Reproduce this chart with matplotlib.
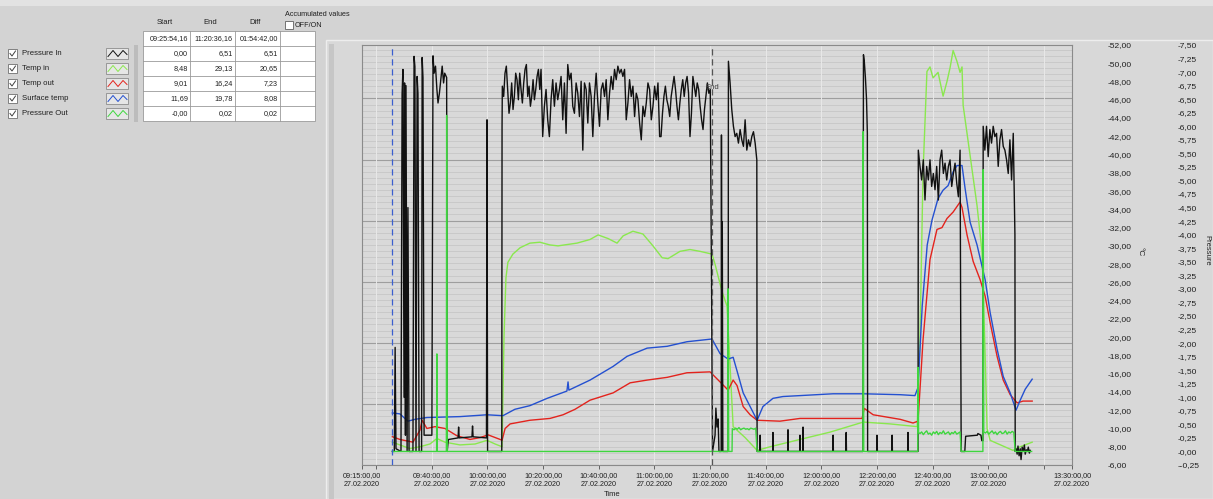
import numpy as np
import matplotlib.pyplot as plt
from matplotlib.lines import Line2D
from matplotlib.patches import Rectangle

plt.rcParams['font.family'] = ['Liberation Sans', 'DejaVu Sans']

# ---- values (time = minutes after 09:15:00, 27.02.2020) ----
channels = ["Pressure In", "Temp in", "Temp out", "Surface temp", "Pressure Out"]
start_col = ["09:25:54,16", "0,00", "8,48", "9,01", "11,69", "-0,00"]
end_col = ["11:20:36,16", "6,51", "29,13", "16,24", "19,78", "0,02"]
diff_col = ["01:54:42,00", "6,51", "20,65", "7,23", "8,08", "0,02"]

tick_minutes = [0, 5, 25, 45, 65, 85, 105, 125, 145, 165, 185, 205, 225, 245, 255]
unlabeled_ticks = [5, 245]
temp_ticks = np.arange(6, 53, 2)
press_ticks = np.arange(-0.25, 7.51, 0.25)

# Pressure In (bar)
pin_pre_t = [10.9, 11.6, 11.9, 12.2, 14.0, 14.4, 14.7, 15.1, 15.3, 15.6, 15.8, 16.2, 16.5, 16.9,
             18.3, 18.7, 19.0, 19.4, 19.8, 20.1, 20.5, 21.4, 21.6, 21.9, 22.3, 25.1, 25.5,
             25.9, 26.4, 26.9, 27.3, 27.8, 28.3, 28.8, 29.3, 29.7,
             30.4, 30.6, 31.0, 34.5, 34.7, 34.9, 39.5, 39.7, 39.9, 44.7, 44.9, 45.1, 50.2, 50.3]
pin_pre_v = [0.0, 0.0, 1.92, 0.05, 0.0, 6.6, 7.05, 1.0, 6.8, 0.3, 6.75, 0.0, 4.5, 0.0,
             0.0, 7.29, 7.1, 0.0, 6.92, 6.6, 0.0, 0.0, 7.27, 6.9, 0.3, 0.3, 7.3,
             6.98, 7.11, 6.68, 6.43, 6.61, 6.86, 7.11, 6.80, 6.98,
             6.9, 0.0, 0.22, 0.25, 0.45, 0.25, 0.27, 0.47, 0.27, 0.25, 6.12, 0.0, 0.0, 6.0]
pin_seg_a = [6.74, 6.55, 6.98, 7.11, 6.68, 6.24, 6.43, 6.80, 6.31, 6.55, 6.98, 6.86, 6.49, 6.98,
             6.68, 6.43, 6.80, 7.05, 7.14, 6.55, 6.74, 6.37, 6.55, 6.86, 6.49, 6.68, 6.92, 7.05, 6.68]
pin_seg_b = [7.05, 5.81, 6.37, 6.68, 6.12, 5.81, 6.49, 6.86, 6.37, 6.80, 6.49, 6.68, 6.92, 6.12,
             6.80, 5.87, 7.14, 6.86, 6.98, 6.37, 6.24, 6.80, 6.61, 6.18, 6.83, 5.56, 6.80, 6.68,
             6.06, 6.80, 6.55, 5.81, 6.55, 6.98, 6.43, 6.00, 6.68, 6.80, 6.55, 6.86, 6.12, 6.61,
             6.92, 6.68, 7.05, 6.86, 7.11, 6.98, 7.05, 6.92, 7.05, 6.12, 6.43, 6.86, 6.55, 6.74,
             6.18, 6.61, 6.49, 6.06, 5.75, 6.37, 6.18, 6.43, 6.80, 6.68, 6.12, 6.37, 6.74, 6.49,
             6.80, 5.81]
pin_seg_c = [5.81, 6.24, 6.55, 6.74, 6.49, 6.37, 6.18, 6.55, 6.74, 6.92, 6.68, 6.37, 6.12, 6.43,
             6.68, 6.86, 6.55, 6.80, 6.92, 6.61, 5.81, 6.24, 6.92, 6.74, 6.55, 6.80, 6.68, 6.37,
             6.12, 5.94, 6.31, 6.55, 6.80, 6.61, 6.68]
pin_mid_t = [125.9, 126.8, 127.1, 127.5, 127.9, 128.2, 129.0, 129.1, 129.3, 129.4, 129.6, 131.5, 131.6]
pin_mid_v = [0.0, 0.3, 0.8, 0.45, 0.6, 0.0, 0.0, 5.84, 0.0, 4.24, 0.0, 0.0, 7.2]
pin_seg_d = [6.80, 6.31, 6.00, 5.81, 5.87, 5.69, 5.94, 5.75, 5.63, 6.12, 5.56, 5.75, 5.63, 5.81,
             5.90, 5.69, 5.38]
pin_low_t = [141.9, 142.9, 143.0, 143.1, 147.5, 147.6, 147.7, 152.9, 153.0, 153.1, 157.2, 157.3,
             157.4, 158.3, 158.4, 158.5, 169.1, 169.2, 169.3, 173.8, 173.9, 174.0, 179.9, 180.1,
             180.4, 180.8, 181.2, 181.5, 181.6, 184.9, 185.0, 185.1, 190.3, 190.4, 190.5, 196.0,
             196.1, 196.2, 199.7, 199.8]
pin_low_v = [0.0, 0.0, 0.3, 0.0, 0.0, 0.35, 0.0, 0.0, 0.4, 0.0, 0.0, 0.3,
             0.0, 0.0, 0.45, 0.0, 0.0, 0.3, 0.0, 0.0, 0.35, 0.0, 0.0, 7.32,
             7.2, 6.9, 6.5, 5.87, 0.0, 0.0, 0.3, 0.0, 0.0, 0.3, 0.0, 0.0,
             0.35, 0.0, 0.0, 5.56]
pin_seg_e = [5.26, 5.01, 5.38, 4.64, 5.26, 5.01, 5.38, 4.89, 5.13, 4.83, 5.26, 4.64, 5.38, 5.56,
             5.13, 5.32, 5.01, 5.26, 5.38, 4.89, 5.13, 5.32, 4.95, 4.70, 5.56]
pin_gap_t = [215.2, 216.5, 216.8, 221.0, 221.2, 222.3, 222.6, 223.0, 223.1]
pin_gap_v = [0.0, 0.0, 0.28, 0.3, 0.33, 0.3, 0.2, 0.2, 6.0]
pin_seg_f = [5.56, 6.00, 5.44, 5.94, 5.69, 6.00, 5.81, 5.87, 5.26, 5.75, 5.94, 5.63, 5.56, 5.38,
             5.13, 5.75, 5.01, 5.87]
pin_end_t = [234.5, 234.6, 234.9, 235.3, 235.6, 236.0, 236.4, 236.7, 237.1, 237.5, 237.9, 238.2,
             238.6, 239.0, 239.3, 239.7, 240.0]
pin_end_v = [4.0, 0.0, 0.05, -0.05, 0.1, -0.08, 0.05, -0.15, 0.08, 0.0, 0.12, -0.05,
             0.03, 0.0, 0.08, -0.03, 0.02]

# Pressure Out (bar)
pout_a_t = [10.9, 26.8, 26.9, 27.0, 30.3, 30.4, 30.6, 131.4, 131.5, 131.7, 132.9, 133.0]
pout_a_v = [0.0, 0.0, 1.8, 0.0, 0.0, 6.2, 0.0, 0.0, 3.0, 0.0, 0.0, 0.42]
pout_seg_a = [0.40, 0.43, 0.41, 0.44, 0.40, 0.42, 0.43, 0.41, 0.42, 0.40, 0.43, 0.42, 0.41, 0.43]
pout_b_t = [141.9, 179.9, 180.0, 180.2, 199.6, 199.7, 199.9]
pout_b_v = [0.0, 0.0, 5.9, 0.0, 0.0, 1.55, 0.35]
pout_seg_b = [0.33, 0.36, 0.31, 0.35, 0.38, 0.32, 0.34, 0.30, 0.36, 0.33, 0.37, 0.31, 0.35, 0.33,
              0.38, 0.32, 0.34, 0.36, 0.31, 0.35, 0.33, 0.37, 0.32, 0.34, 0.36]
pout_c_t = [215.2, 223.0, 223.1, 223.3]
pout_c_v = [0.0, 0.0, 5.2, 0.36]
pout_seg_c = [0.34, 0.37, 0.32, 0.35, 0.38, 0.33, 0.36, 0.31, 0.35, 0.37, 0.33, 0.34, 0.38, 0.32,
              0.36, 0.34, 0.37, 0.35]
pout_d_t = [234.6, 240.5]
pout_d_v = [0.0, 0.0]

# Temp in (°C)
tin_t = [10.9, 13.6, 17.2, 20.8, 24.4, 26.9, 29.8, 35.2, 40.6, 44.9, 47.8, 50.3, 51.0, 51.7, 52.4,
         54.2, 56.8, 60.3, 63.9, 67.5, 70.4, 77.2, 81.9, 84.8, 88.4, 91.6, 93.8, 97.3, 100.9, 104.5,
         107.8, 109.9, 114.2, 117.8, 121.4, 125.7, 126.8, 129.3, 131.1, 133.3, 137.6, 141.9, 146.6,
         157.3, 168.1, 180.0, 189.7, 199.4, 200.4, 201.5, 202.9, 204.0, 205.1, 206.9, 208.7, 210.1,
         211.2, 212.3, 213.7, 214.8, 215.5, 215.9, 218.4, 220.9, 222.7, 223.8, 224.5, 225.6, 233.8,
         236.4, 240.7]
tin_v = [8.5, 8.2, 7.8, 8.0, 8.3, 8.9, 8.5, 8.2, 8.3, 8.7, 8.3, 8.0, 20.0, 26.5, 28.2,
         29.1, 29.8, 30.3, 30.4, 30.1, 30.0, 30.3, 30.7, 31.2, 30.8, 30.3, 31.1, 31.6, 31.3, 30.0,
         28.7, 28.6, 29.4, 29.6, 29.4, 29.1, 28.0, 25.0, 23.4, 10.2, 9.0, 7.6, 8.0,
         8.8, 9.6, 10.7, 10.5, 10.2, 20.0, 38.0, 49.1, 49.6, 48.4, 49.0, 46.4, 48.0,
         49.5, 51.4, 50.2, 49.0, 49.6, 45.4, 39.9, 34.4, 29.3, 18.0, 10.0, 8.7, 7.6,
         8.0, 8.5]

# Temp out (°C)
tout_t = [10.9, 13.6, 18.3, 20.8, 21.6, 23.3, 26.2, 29.8, 34.1, 38.8, 42.4, 45.3, 49.6, 50.3, 51.4,
          53.2, 60.3, 67.5, 72.2, 76.5, 81.9, 90.2, 96.3, 102.4, 109.6, 116.7, 125.0, 128.6, 131.5,
          133.3, 134.7, 136.9, 139.4, 141.9, 150.1, 157.3, 179.6, 180.4, 183.6, 193.3, 197.9, 199.7,
          201.5, 204.0, 206.5, 208.3, 210.1, 212.3, 214.8, 215.5, 217.3, 219.5, 222.0, 223.8, 225.6,
          228.1, 230.3, 232.8, 235.3, 237.4, 240.7]
tout_v = [9.1, 8.8, 8.5, 9.8, 10.9, 10.0, 10.2, 10.0, 9.2, 8.8, 9.0, 9.3, 8.8, 8.7, 10.0,
          10.5, 10.9, 11.1, 11.5, 12.1, 13.1, 13.9, 15.0, 15.3, 15.6, 16.1, 16.2, 15.1, 14.2,
          15.3, 14.7, 12.4, 11.5, 10.9, 10.8, 11.1, 11.1, 12.2, 11.5, 11.0, 10.6, 10.8,
          19.7, 28.5, 31.8, 32.0, 33.0, 33.7, 34.8, 34.2, 31.2, 28.3, 26.3, 24.5, 21.6,
          17.9, 15.3, 13.7, 12.8, 13.0, 13.0]

# Surface temp (°C)
tsurf_t = [10.9, 13.6, 16.5, 19.0, 23.3, 35.2, 44.9, 50.6, 54.9, 60.3, 66.5, 73.6, 74.0, 74.3, 81.9,
           90.2, 95.2, 102.4, 109.6, 116.7, 125.7, 128.6, 131.5, 133.3, 134.7, 136.9, 139.4, 141.9,
           144.0, 147.6, 151.2, 157.3, 169.2, 180.0, 193.3, 198.6, 199.7, 201.2, 203.0, 204.7, 206.9,
           208.7, 210.5, 212.3, 213.7, 215.5, 216.6, 218.4, 220.9, 223.8, 225.6, 228.1, 230.3, 232.8,
           234.9, 236.4, 238.2, 240.7]
tsurf_v = [11.7, 11.6, 10.8, 11.0, 11.2, 11.3, 11.5, 11.4, 12.1, 12.5, 13.3, 14.1, 15.1, 14.2, 15.3,
           16.8, 17.9, 18.8, 19.0, 19.5, 19.8, 18.2, 17.6, 17.8, 16.3, 13.9, 12.4, 10.9,
           12.4, 13.3, 13.5, 13.6, 13.8, 13.8, 13.7, 13.6, 14.5, 23.4, 30.1, 32.8, 35.2,
           36.1, 36.6, 38.1, 38.8, 38.8, 36.3, 32.6, 30.1, 26.3, 22.7, 18.7, 15.7, 13.9,
           12.0, 13.1, 14.3, 15.4]


def sampled(t0, dt, vals):
    # evenly logged samples starting at t0
    return list(t0 + dt * np.arange(len(vals)))


def clock_minutes(s):
    h, m, rest = s.split(':')
    return int(h) * 60 + int(m) + float(rest.replace(',', '.')) / 60 - (9 * 60 + 15)


pin_t = (pin_pre_t + sampled(50.4, 0.48, pin_seg_a) + sampled(64.3, 0.6, pin_seg_b)
         + sampled(107.4, 0.52, pin_seg_c) + pin_mid_t + sampled(132.2, 0.6, pin_seg_d)
         + pin_low_t + sampled(200.4, 0.6, pin_seg_e) + pin_gap_t
         + sampled(223.7, 0.6, pin_seg_f) + pin_end_t)
pin_v = (pin_pre_v + pin_seg_a + pin_seg_b + pin_seg_c + pin_mid_v + pin_seg_d
         + pin_low_v + pin_seg_e + pin_gap_v + pin_seg_f + pin_end_v)
pout_t = (pout_a_t + sampled(133.6, 0.6, pout_seg_a) + pout_b_t + sampled(200.4, 0.6, pout_seg_b)
          + pout_c_t + sampled(223.9, 0.6, pout_seg_c) + pout_d_t)
pout_v = pout_a_v + pout_seg_a + pout_b_v + pout_seg_b + pout_c_v + pout_seg_c + pout_d_v

colors = {"Pressure In": "#111111", "Temp in": "#8ae84e", "Temp out": "#e3231d",
          "Surface temp": "#2450d0", "Pressure Out": "#3ed63e"}

# ---- figure ----
W, H = 1213, 499
fig = plt.figure(figsize=(W / 100, H / 100), dpi=100, facecolor='#d3d3d3')


def fx(px):
    return px / W


def fy(py):
    return 1 - py / H


def frect(x0, y0, x1, y1, z=-5, **kw):
    fig.patches.append(Rectangle((fx(x0), fy(y1)), fx(x1) - fx(x0), fy(y0) - fy(y1),
                                 transform=fig.transFigure, zorder=z, **kw))


def fline(xs, ys, **kw):
    fig.lines.append(Line2D([fx(v) for v in xs], [fy(v) for v in ys],
                            transform=fig.transFigure, zorder=5, **kw))


frect(0, 0, W, 6, facecolor='#e2e2e2', edgecolor='none')
frect(326, 40, W, H, facecolor='#d8d8d8', edgecolor='#ededed', lw=1)
frect(329, 44, 334, H, facecolor='#c6c6c6', edgecolor='none')

# ---- chart ----
ax = fig.add_axes([fx(362), fy(465), fx(1072) - fx(362), (465 - 45) / H])
axp = ax.twinx()
ax.set_facecolor('#d9d9d9')
ax.set_xlim(0, 255)
ax.set_ylim(6, 52)
axp.set_ylim(-0.25, 7.5)

for k in range(70):
    f = k * 6.11 / 420
    if f > 1:
        break
    major = k % 10 == 0
    ax.axhline(6 + 46 * f, color='#9e9e9e' if major else '#c6c6c6',
               lw=0.8 if major else 0.6, zorder=0.5)
for m in tick_minutes:
    ax.axvline(m, color='#e8e8e8', lw=0.7, zorder=0.6)

ax.plot(tin_t, tin_v, color=colors["Temp in"], lw=1.0)
ax.plot(tout_t, tout_v, color=colors["Temp out"], lw=1.0)
ax.plot(tsurf_t, tsurf_v, color=colors["Surface temp"], lw=1.0)
axp.plot(pin_t, pin_v, color=colors["Pressure In"], lw=1.0)
axp.plot(pout_t, pout_v, color=colors["Pressure Out"], lw=1.0)

t_start = clock_minutes(start_col[0])
t_end = clock_minutes(end_col[0])
axp.axvline(t_start, color='#3a5fcf', lw=0.9, ls=(0, (5, 3)), zorder=3)
axp.axvline(t_end, color='#555555', lw=0.9, ls=(0, (5, 3)), zorder=3)
axp.text(t_end - 2.4, 0.9, "End", transform=axp.get_xaxis_transform(), fontsize=5.5,
         color='#404040', va='center', ha='left')

labels = []
for m in tick_minutes:
    if m in unlabeled_ticks:
        labels.append('')
    else:
        total = 9 * 60 + 15 + m
        labels.append(f"{total // 60:02d}:{total % 60:02d}:00,00\n27.02.2020")
ax.set_xticks(tick_minutes)
ax.set_xticklabels(labels, fontsize=5.2, color='#202020', linespacing=1.4)
ax.tick_params(axis='x', direction='out', length=3, width=0.6, color='#505050', pad=2)

ax.set_yticks(temp_ticks)
ax.set_yticklabels([f"-{v:.2f}".replace('.', ',') for v in temp_ticks])
ax.yaxis.set_ticks_position('right')
ax.tick_params(axis='y', length=0, pad=26, labelsize=6, labelcolor='#202020',
               labelleft=False, labelright=True)
for sp in ax.spines.values():
    sp.set_color('#8a8a8a')
    sp.set_linewidth(0.8)

axp.set_yticks(press_ticks)
axp.set_yticklabels([f"-{v:.2f}".replace('.', ',') for v in press_ticks])
axp.tick_params(axis='y', length=0, pad=76, labelsize=6, labelcolor='#202020')
for sp in axp.spines.values():
    sp.set_visible(False)

fig.text(fx(1140), fy(252), "°C", rotation=-90, fontsize=6, color='#202020',
         ha='center', va='center')
fig.text(fx(1207), fy(250), "Pressure", rotation=-90, fontsize=5.5, color='#202020',
         ha='center', va='center')
fig.text(fx(612), fy(494), "Time", fontsize=5.5, color='#202020', ha='center', va='center')

# ---- value table ----
col_edges = [143, 190, 235, 280, 315]
row_edges = [31, 46, 61, 76, 91, 106, 121]
frect(col_edges[0], row_edges[0], col_edges[-1], row_edges[-1], z=1, facecolor='white',
      edgecolor='#9a9a9a', lw=0.6)
for xe in col_edges[1:-1]:
    fline([xe, xe], [row_edges[0], row_edges[-1]], color='#9a9a9a', lw=0.6)
for ye in row_edges[1:-1]:
    fline([col_edges[0], col_edges[-1]], [ye, ye], color='#9a9a9a', lw=0.6)

for j, (head, col) in enumerate(zip(["Start", "End", "Diff"], [start_col, end_col, diff_col])):
    xc = (col_edges[j] + col_edges[j + 1]) / 2
    fig.text(fx(xc - 2), fy(23), head, fontsize=5.5, color='#202020', ha='center', va='center')
    for i, val in enumerate(col):
        yc = (row_edges[i] + row_edges[i + 1]) / 2
        fig.text(fx(col_edges[j + 1] - 2), fy(yc), val, fontsize=5.2, color='#202020',
                 ha='right', va='center')

fig.text(fx(285), fy(14), "Accumulated values", fontsize=5.2, color='#202020', va='center')
frect(285, 21, 293, 29, z=1, facecolor='white', edgecolor='#606060', lw=0.6)
fig.text(fx(295), fy(25.5), "OFF/ON", fontsize=5.2, color='#202020', va='center')

# ---- channel legend ----
frect(134, 45, 138, 122, facecolor='#bcbcbc', edgecolor='none')
for i, name in enumerate(channels):
    yc = 53.5 + 15 * i
    frect(8, yc - 4.5, 17, yc + 4.5, z=1, facecolor='white', edgecolor='#707070', lw=0.6)
    fline([10, 12, 15.5], [yc, yc + 2.5, yc - 2.5], color='#404040', lw=0.7)
    fig.text(fx(22), fy(yc), name, fontsize=5.6, color='#202020', va='center')
    frect(106, yc - 5.5, 128, yc + 5.5, z=1, facecolor='#e6e6e6', edgecolor='#8c8c8c', lw=0.6)
    fline([108, 113, 118, 123, 127], [yc + 3, yc - 3, yc + 3, yc - 3, yc + 1],
          color=colors[name], lw=0.7)

fig.savefig('out.png', dpi=100, facecolor=fig.get_facecolor())
